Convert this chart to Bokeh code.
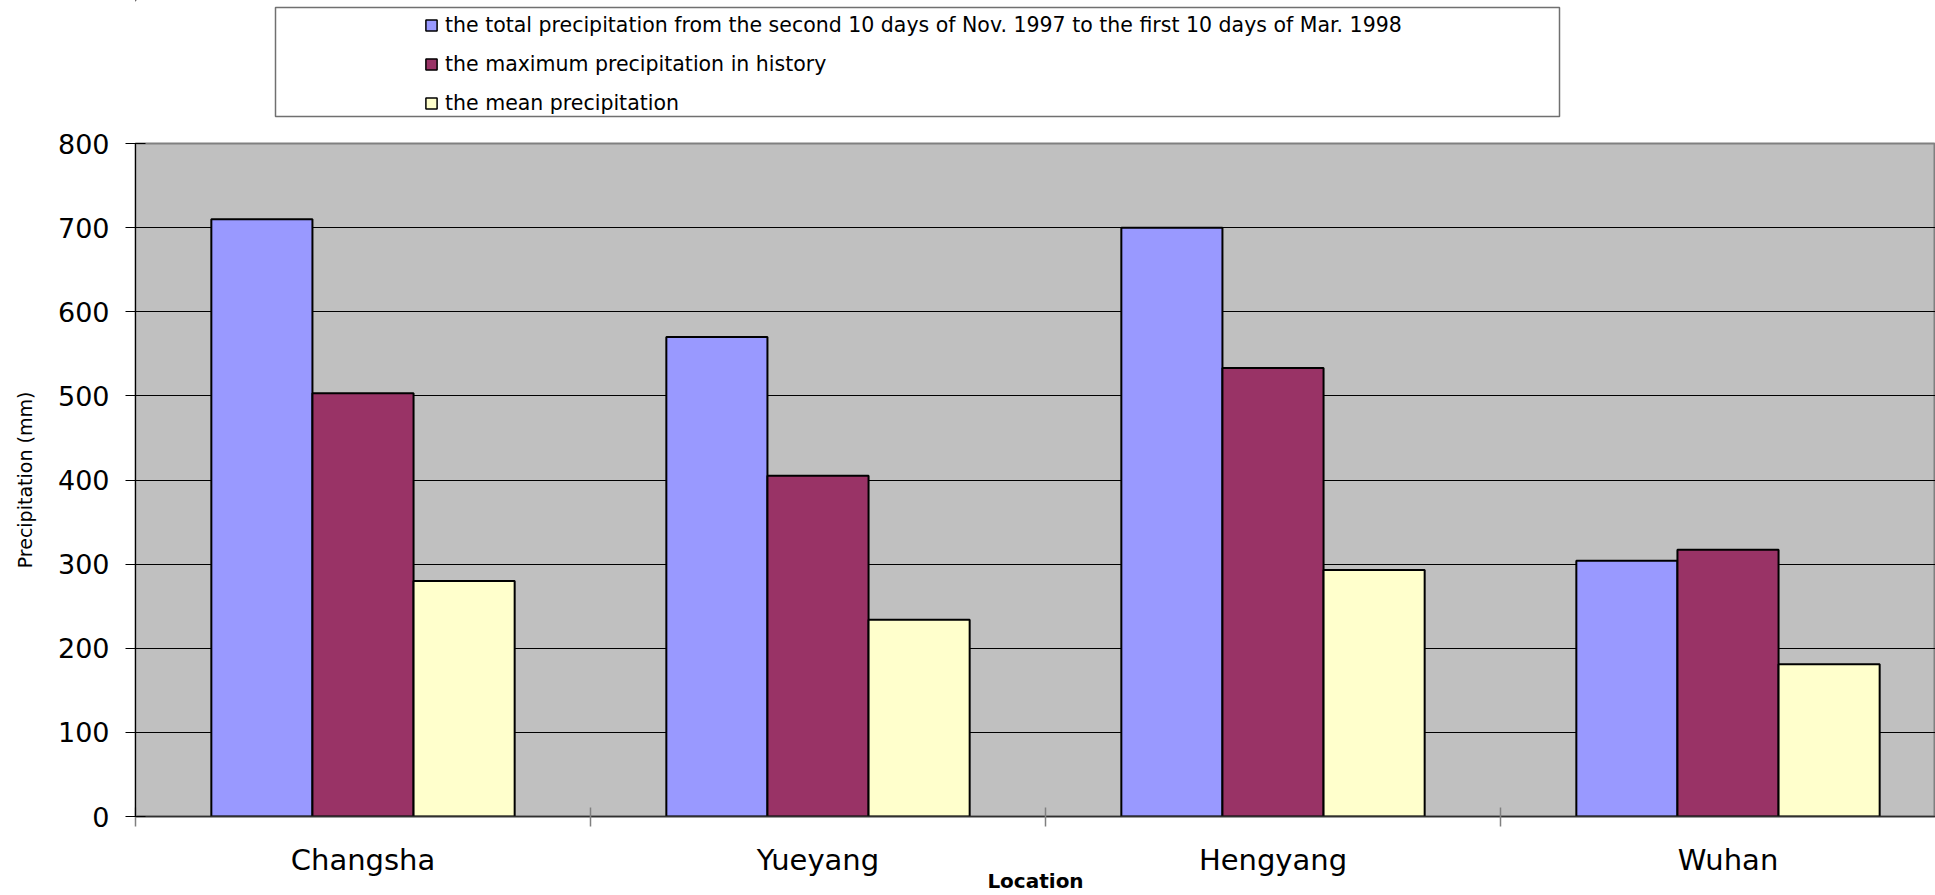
from bokeh.plotting import figure
from bokeh.models import FixedTicker, Range1d, Legend, LegendItem, ColumnDataSource
from bokeh.layouts import column
from bokeh.embed import file_html
from bokeh.resources import INLINE

# ---------------- data ----------------
locations = ["Changsha", "Yueyang", "Hengyang", "Wuhan"]
series_names = [
    "the total precipitation from the second 10 days of Nov. 1997 to the first 10 days of Mar. 1998",
    "the maximum precipitation in history",
    "the mean precipitation",
]
total_precip = [710, 570, 700, 304]
max_precip = [503, 405, 533, 317]
mean_precip = [280, 234, 293, 181]
y_ticks = [0, 100, 200, 300, 400, 500, 600, 700, 800]
x_title = "Location"
y_title = "Precipitation (mm)"

series_values = [total_precip, max_precip, mean_precip]
series_colors = ["#9999FF", "#993366", "#FFFFCC"]

# ---------------- layout constants ----------------
FONT = "DejaVu Sans"
W = 1935
LEG_H = 125
MAIN_H = 770
FRAME_LEFT = 135
GROUP_PX = 455.0
BAR_W = 1 / 4.5

group_pos = [i + 0.5 for i in range(len(locations))]
x_end = (W - FRAME_LEFT) / GROUP_PX

# ---------------- main chart ----------------
p = figure(width=W, height=MAIN_H, output_backend="svg", toolbar_location=None,
           title=None,
           x_range=Range1d(0, x_end), y_range=Range1d(0, 800),
           min_border_left=FRAME_LEFT, min_border_right=0,
           min_border_top=18, min_border_bottom=78)
p.background_fill_color = "#C0C0C0"
p.border_fill_color = "white"
p.outline_line_color = "#808080"
p.outline_line_width = 2

for k, (vals, col) in enumerate(zip(series_values, series_colors)):
    src = ColumnDataSource(dict(x=[g + (k - 1) * BAR_W for g in group_pos], top=vals))
    p.vbar(x="x", top="top", bottom=0, width=BAR_W, source=src,
           fill_color=col, line_color="black", line_width=2)

p.xgrid.visible = False
p.ygrid.ticker = FixedTicker(ticks=y_ticks[1:-1])
p.ygrid.grid_line_color = "black"
p.ygrid.grid_line_width = 1

xa = p.xaxis[0]
xa.ticker = FixedTicker(ticks=group_pos, minor_ticks=list(range(len(locations))))
xa.major_label_overrides = {g: name for g, name in zip(group_pos, locations)}
xa.major_tick_in = 0
xa.major_tick_out = 0
xa.minor_tick_in = 9
xa.minor_tick_out = 10
xa.minor_tick_line_color = "#808080"
xa.minor_tick_line_width = 1.5
xa.axis_line_color = "#303030"
xa.axis_line_width = 1.5
xa.major_label_text_font = FONT
xa.major_label_text_font_size = "29px"
xa.major_label_text_color = "black"
xa.major_label_standoff = 16
xa.axis_label = x_title
xa.axis_label_text_font = FONT
xa.axis_label_text_font_size = "20px"
xa.axis_label_text_font_style = "bold"
xa.axis_label_text_color = "black"
xa.axis_label_standoff = -11

ya = p.yaxis[0]
ya.ticker = FixedTicker(ticks=y_ticks)
ya.major_tick_in = 10
ya.major_tick_out = 10
ya.minor_tick_in = 0
ya.minor_tick_out = 0
ya.major_tick_line_color = "black"
ya.axis_line_color = "black"
ya.major_label_text_font = FONT
ya.major_label_text_font_size = "27px"
ya.major_label_text_color = "black"
ya.major_label_standoff = 16
ya.axis_label = y_title
ya.axis_label_text_font = FONT
ya.axis_label_text_font_size = "19px"
ya.axis_label_text_font_style = "normal"
ya.axis_label_text_color = "black"
ya.axis_label_standoff = 19

# ---------------- legend panel ----------------
lp = figure(width=W, height=LEG_H, output_backend="svg", toolbar_location=None,
            title=None,
            x_range=Range1d(FRAME_LEFT, W), y_range=Range1d(LEG_H, 0),
            x_axis_location=None, y_axis_location=None,
            min_border_left=FRAME_LEFT, min_border_right=0,
            min_border_top=0, min_border_bottom=0)
lp.grid.visible = False
lp.background_fill_color = "white"
lp.border_fill_color = "white"
lp.outline_line_color = None

lp.quad(left=[275], right=[1559], top=[7], bottom=[116],
        fill_color=None, line_color="#707070", line_width=1.5)

dummy = []
for col in series_colors:
    dummy.append(lp.vbar(x=[-5000], top=[-5000], bottom=[-5000], width=1, fill_color=col,
                         line_color="black", line_width=1.5))

legend = Legend(items=[LegendItem(label=n, renderers=[r]) for n, r in zip(series_names, dummy)],
                location=(424 - FRAME_LEFT, 10), orientation="vertical",
                glyph_width=14, glyph_height=14, label_height=22, spacing=15,
                padding=0, margin=0, border_line_color=None,
                background_fill_alpha=0, label_standoff=7,
                label_text_font=FONT, label_text_font_size="20.5px",
                label_text_color="black")
lp.add_layout(legend)

layout = column(lp, p, spacing=0)
open("out.html", "w").write(file_html(layout, INLINE))
